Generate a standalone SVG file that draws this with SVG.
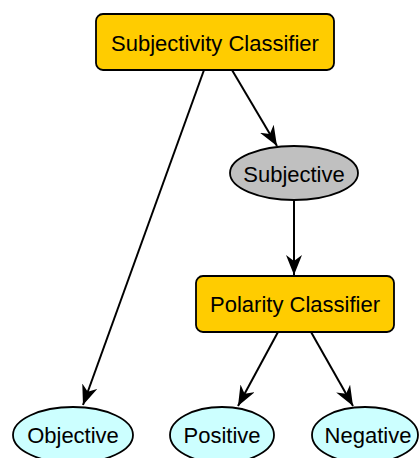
<svg xmlns="http://www.w3.org/2000/svg" width="419" height="458" viewBox="0 0 419 458">
<style>
.box{fill:#ffcc00;stroke:#000;stroke-width:1.8}
.sub{fill:#c0c0c0;stroke:#000;stroke-width:1.8}
.leaf{fill:#ccffff;stroke:#000;stroke-width:1.8}
.lbl{font-family:"Liberation Sans",Arial,sans-serif;font-size:22px;fill:#000;text-anchor:middle;dominant-baseline:central}
.edge{stroke:#000;stroke-width:2;fill:none;marker-end:url(#arr)}
</style>
<defs>
<marker id="arr" markerWidth="22" markerHeight="18" refX="20" refY="8" orient="auto" markerUnits="userSpaceOnUse">
<path d="M0,0 L20,8 L0,16 L6,8 Z" fill="#000"/>
</marker>
</defs>
<rect width="419" height="458" fill="#fff"/>
<g id="connectors">
<line class="edge" x1="204" y1="70" x2="83" y2="405"/>
<line class="edge" x1="232" y1="70" x2="277" y2="146"/>
<line class="edge" x1="294" y1="201" x2="294" y2="275"/>
<line class="edge" x1="278" y1="332" x2="238" y2="406"/>
<line class="edge" x1="311" y1="332" x2="353" y2="406"/>
</g>
<g id="subjectivity-classifier">
<rect class="box" x="96" y="14" width="238" height="56" rx="7"/>
<text class="lbl" x="215" y="43">Subjectivity Classifier</text>
</g>
<g id="subjective">
<ellipse class="sub" cx="294" cy="173" rx="64" ry="27"/>
<text class="lbl" x="294" y="174">Subjective</text>
</g>
<g id="polarity-classifier">
<rect class="box" x="196" y="276" width="198" height="56" rx="7"/>
<text class="lbl" x="295" y="304">Polarity Classifier</text>
</g>
<g id="objective">
<ellipse class="leaf" cx="73" cy="435" rx="60" ry="28"/>
<text class="lbl" x="73" y="435">Objective</text>
</g>
<g id="positive">
<ellipse class="leaf" cx="222" cy="435" rx="52" ry="28"/>
<text class="lbl" x="222" y="435">Positive</text>
</g>
<g id="negative">
<ellipse class="leaf" cx="365" cy="435" rx="53" ry="28"/>
<text class="lbl" x="368" y="435">Negative</text>
</g>
</svg>
